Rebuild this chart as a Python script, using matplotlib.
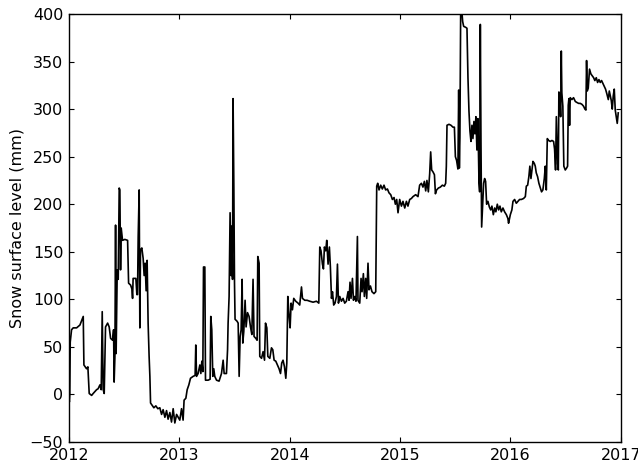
import matplotlib
matplotlib.use("Agg")
import matplotlib.pyplot as plt
import matplotlib.dates as mdates
import numpy as np
import pandas as pd

# time in years since 2012-01-01, snow surface level in mm
t_2012 = [0.000, 0.004, 0.008, 0.012, 0.024, 0.039, 0.070, 0.100, 0.124, 0.130,
          0.136, 0.160, 0.172, 0.184, 0.206, 0.220, 0.236, 0.251, 0.265, 0.281,
          0.293, 0.302, 0.311, 0.320, 0.332, 0.351, 0.365, 0.378, 0.396, 0.405,
          0.410, 0.417, 0.423, 0.428, 0.438, 0.447, 0.456, 0.462, 0.468, 0.474,
          0.486, 0.507, 0.532, 0.541, 0.559, 0.571, 0.577, 0.582, 0.607, 0.616,
          0.622, 0.628, 0.637, 0.643, 0.649, 0.661, 0.673, 0.682, 0.691, 0.700,
          0.709, 0.718, 0.727, 0.734, 0.740, 0.752, 0.770, 0.788, 0.806, 0.824,
          0.840, 0.854, 0.870, 0.885, 0.899, 0.915, 0.930, 0.945, 0.960, 0.976,
          0.990]
v_2012 = [-2, -8, 0, 55, 68, 70, 70, 73, 80, 82,
          31, 27, 29, 1, -1, 1, 3, 5, 6, 10,
          5, 87, 5, 1, 71, 75, 71, 59, 57, 68,
          13, 40, 178, 43, 131, 121, 217, 215, 131, 175,
          162, 163, 162, 117, 115, 111, 101, 122, 122, 105,
          105, 166, 215, 70, 152, 154, 143, 125, 138, 109,
          141, 75, 40, 19, -9, -11, -14, -12, -15, -14,
          -21, -16, -24, -17, -26, -19, -29, -15, -30, -21,
          -24]

t_2013 = [1.005, 1.021, 1.035, 1.044, 1.060, 1.072, 1.087, 1.102, 1.126, 1.144,
          1.150, 1.157, 1.171, 1.187, 1.196, 1.205, 1.214, 1.220, 1.232, 1.238,
          1.262, 1.280, 1.286, 1.295, 1.304, 1.313, 1.322, 1.338, 1.361, 1.383,
          1.398, 1.407, 1.428, 1.438, 1.443, 1.452, 1.461, 1.470, 1.476, 1.483,
          1.488, 1.495, 1.501, 1.506, 1.524, 1.534, 1.543, 1.552, 1.561, 1.570,
          1.576, 1.585, 1.597, 1.606, 1.619, 1.633, 1.646, 1.658, 1.669, 1.678,
          1.694, 1.706, 1.712, 1.724, 1.730, 1.746, 1.760, 1.773, 1.782, 1.794,
          1.803, 1.821, 1.836, 1.848, 1.860, 1.875, 1.890, 1.905, 1.918, 1.929,
          1.941, 1.954, 1.966, 1.975, 1.984, 1.996]
v_2013 = [-27, -15, -27, -6, -4, 5, 10, 17, 19, 20,
          52, 19, 22, 31, 22, 35, 24, 134, 134, 15,
          15, 16, 82, 68, 19, 27, 19, 15, 14, 22,
          36, 22, 22, 47, 75, 103, 191, 125, 177, 121,
          311, 218, 117, 79, 77, 75, 19, 61, 68, 121,
          54, 66, 99, 71, 86, 82, 71, 63, 121, 61,
          59, 57, 145, 138, 40, 38, 45, 36, 75, 70,
          40, 38, 49, 47, 36, 35, 31, 27, 22, 33,
          36, 29, 17, 33, 103, 82]

t_2014 = [2.005, 2.014, 2.026, 2.038, 2.056, 2.077, 2.092, 2.108, 2.117, 2.138,
          2.159, 2.183, 2.213, 2.244, 2.265, 2.274, 2.285, 2.298, 2.307, 2.316,
          2.328, 2.337, 2.349, 2.361, 2.370, 2.380, 2.389, 2.400, 2.412, 2.425,
          2.434, 2.443, 2.455, 2.470, 2.485, 2.500, 2.515, 2.530, 2.539, 2.548,
          2.557, 2.570, 2.579, 2.591, 2.602, 2.615, 2.620, 2.636, 2.648, 2.657,
          2.669, 2.678, 2.690, 2.699, 2.711, 2.720, 2.733, 2.747, 2.765, 2.781,
          2.790, 2.799, 2.811, 2.826, 2.841, 2.856, 2.871, 2.887, 2.901, 2.917,
          2.932, 2.947, 2.959, 2.971, 2.983]
v_2014 = [70, 96, 89, 101, 98, 96, 94, 113, 101, 99,
          99, 98, 97, 98, 96, 155, 151, 137, 132, 155,
          151, 162, 137, 155, 134, 101, 108, 94, 96, 103,
          137, 96, 103, 98, 101, 96, 98, 108, 99, 118,
          101, 122, 99, 103, 98, 166, 99, 96, 122, 108,
          127, 103, 122, 101, 138, 110, 114, 108, 106, 108,
          219, 222, 215, 220, 216, 220, 215, 216, 212, 210,
          205, 207, 200, 205, 191]

t_2015 = [2.998, 3.014, 3.028, 3.044, 3.059, 3.073, 3.089, 3.104, 3.119, 3.143,
          3.164, 3.179, 3.195, 3.209, 3.222, 3.234, 3.245, 3.258, 3.270, 3.279,
          3.288, 3.300, 3.313, 3.322, 3.333, 3.349, 3.367, 3.385, 3.403, 3.415,
          3.421, 3.427, 3.445, 3.463, 3.481, 3.494, 3.503, 3.514, 3.526, 3.533,
          3.539, 3.544, 3.551, 3.560, 3.569, 3.578, 3.596, 3.608, 3.617, 3.626,
          3.635, 3.644, 3.653, 3.662, 3.671, 3.680, 3.689, 3.698, 3.707, 3.717,
          3.723, 3.729, 3.735, 3.741, 3.750, 3.759, 3.768, 3.777, 3.786, 3.798,
          3.811, 3.823, 3.834, 3.847, 3.859, 3.870, 3.883, 3.895, 3.907, 3.919,
          3.934, 3.949, 3.965, 3.979, 3.985]
v_2015 = [205, 198, 203, 196, 203, 198, 205, 206, 208, 210,
          208, 220, 222, 218, 224, 214, 225, 213, 232, 255,
          236, 234, 231, 211, 215, 217, 218, 220, 219, 222,
          240, 283, 284, 283, 281, 281, 250, 246, 237, 320,
          238, 270, 405, 405, 392, 387, 386, 385, 333, 298,
          277, 266, 283, 269, 287, 274, 292, 257, 290, 222,
          213, 389, 264, 176, 200, 222, 227, 224, 200, 203,
          197, 194, 198, 189, 196, 192, 200, 194, 198, 192,
          196, 192, 189, 185, 180]

t_2016 = [4.001, 4.015, 4.025, 4.040, 4.055, 4.070, 4.085, 4.101, 4.121, 4.137,
          4.146, 4.158, 4.169, 4.178, 4.188, 4.197, 4.206, 4.218, 4.227, 4.236,
          4.248, 4.260, 4.273, 4.284, 4.296, 4.309, 4.318, 4.327, 4.336, 4.348,
          4.363, 4.378, 4.393, 4.402, 4.411, 4.418, 4.429, 4.436, 4.441, 4.450,
          4.457, 4.463, 4.468, 4.477, 4.486, 4.499, 4.511, 4.520, 4.526, 4.532,
          4.538, 4.544, 4.559, 4.574, 4.590, 4.604, 4.620, 4.635, 4.650, 4.665,
          4.677, 4.686, 4.692, 4.698, 4.707, 4.719, 4.731, 4.744, 4.756, 4.767,
          4.780, 4.792, 4.804, 4.816, 4.828, 4.840, 4.852, 4.864, 4.876, 4.889,
          4.898, 4.907, 4.916, 4.925, 4.934, 4.943, 4.952, 4.961, 4.970, 4.979]
v_2016 = [189, 194, 203, 205, 201, 203, 205, 205, 206, 208,
          219, 220, 229, 240, 227, 236, 245, 243, 240, 233,
          229, 222, 217, 213, 215, 227, 240, 215, 269, 267,
          266, 267, 266, 258, 236, 292, 243, 236, 318, 315,
          292, 361, 317, 303, 240, 236, 238, 240, 304, 311,
          283, 312, 310, 312, 308, 307, 306, 306, 305, 303,
          300, 299, 351, 319, 322, 342, 337, 335, 333, 330,
          333, 328, 331, 328, 330, 327, 324, 321, 316, 310,
          319, 314, 309, 300, 314, 321, 299, 292, 285, 296]

years_since = np.array(t_2012 + t_2013 + t_2014 + t_2015 + t_2016)
level = np.array(v_2012 + v_2013 + v_2014 + v_2015 + v_2016, dtype=float)
dates = pd.Timestamp("2012-01-01") + pd.to_timedelta(years_since * 365.25, unit="D")

plt.rcParams['font.family'] = ['DejaVu Sans']
fig = plt.figure(figsize=(6.38, 4.66), dpi=100)
ax = fig.add_axes([0.108, 0.0515, 0.865, 0.9185])
ax.plot(dates, level, color='black', linewidth=1.2)

ax.set_xlim(pd.Timestamp("2012-01-01"), pd.Timestamp("2017-01-01"))
ax.set_ylim(-50, 400)
ax.set_yticks(np.arange(-50, 401, 50))
ax.xaxis.set_major_locator(mdates.YearLocator())
ax.xaxis.set_major_formatter(mdates.DateFormatter('%Y'))
ax.tick_params(direction='in', top=True, right=True, length=3.5, width=0.8,
               labelsize=11.5, pad=4)
ax.set_ylabel('Snow surface level (mm)', fontsize=11.5)
for s in ax.spines.values():
    s.set_linewidth(1.0)

fig.savefig('out.png', dpi=100, facecolor='white')
